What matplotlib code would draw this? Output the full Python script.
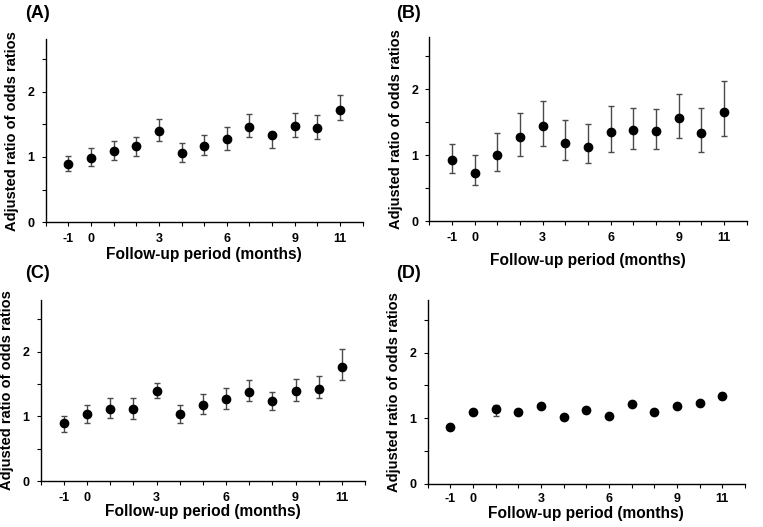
import matplotlib
matplotlib.use("Agg")
import matplotlib.pyplot as plt
import numpy as np

plt.rcParams['font.family'] = ['Liberation Sans', 'DejaVu Sans']
plt.rcParams['font.weight'] = 'bold'

months = [-1, 0, 1, 2, 3, 4, 5, 6, 7, 8, 9, 10, 11]
tick_labels = ['-1', '0', '', '', '3', '', '', '6', '', '', '9', '', '11']

a_est = [0.89, 0.98, 1.09, 1.16, 1.40, 1.06, 1.17, 1.28, 1.46, 1.33, 1.47, 1.44, 1.72]
a_low = [0.79, 0.86, 0.95, 1.01, 1.24, 0.93, 1.03, 1.11, 1.30, 1.13, 1.31, 1.28, 1.56]
a_up  = [1.01, 1.14, 1.25, 1.31, 1.58, 1.22, 1.34, 1.46, 1.65, 1.38, 1.67, 1.64, 1.95]

b_est = [0.92, 0.73, 1.01, 1.27, 1.44, 1.19, 1.13, 1.35, 1.38, 1.36, 1.56, 1.34, 1.65]
b_low = [0.73, 0.54, 0.76, 0.99, 1.14, 0.92, 0.88, 1.05, 1.10, 1.10, 1.26, 1.05, 1.29]
b_up  = [1.17, 1.00, 1.34, 1.64, 1.83, 1.53, 1.47, 1.74, 1.72, 1.70, 1.93, 1.71, 2.12]

c_est = [0.89, 1.03, 1.12, 1.11, 1.39, 1.03, 1.17, 1.27, 1.38, 1.23, 1.39, 1.43, 1.77]
c_low = [0.76, 0.89, 0.98, 0.96, 1.28, 0.90, 1.03, 1.12, 1.24, 1.10, 1.24, 1.28, 1.56]
c_up  = [1.01, 1.18, 1.29, 1.28, 1.51, 1.18, 1.34, 1.44, 1.56, 1.38, 1.58, 1.63, 2.04]

d_est = [0.87, 1.10, 1.14, 1.10, 1.19, 1.02, 1.12, 1.04, 1.22, 1.10, 1.18, 1.23, 1.34]
d_low = [0.85, 1.07, 1.03, 1.07, 1.16, 0.99, 1.09, 1.01, 1.19, 1.07, 1.15, 1.20, 1.30]
d_up  = [0.89, 1.13, 1.20, 1.13, 1.22, 1.05, 1.15, 1.07, 1.25, 1.13, 1.21, 1.26, 1.38]

panels = [
    ('(A)', a_est, a_low, a_up, [45.7, 39.3, 362.7, 222.3], (25, 14), 1.0, 5.0),
    ('(B)', b_est, b_low, b_up, [429.3, 36.7, 746.7, 221.0], (396, 14), 6.5, 5.0),
    ('(C)', c_est, c_low, c_up, [40.7, 300.0, 365.0, 481.0], (25, 274), 0.0, 5.0),
    ('(D)', d_est, d_low, d_up, [427.7, 300.0, 745.0, 484.0], (396, 274), 0.5, 3.5),
]

W, H = 763, 527
fig = plt.figure(figsize=(W / 100, H / 100), dpi=100)

for label, est, low, up, (l, t, r, b), (lx, ly), xpad, tpad in panels:
    ax = fig.add_axes([l / W, 1 - b / H, (r - l) / W, (b - t) / H])
    est = np.array(est)
    yerr = np.vstack([est - np.array(low), np.array(up) - est])
    ax.errorbar(months, est, yerr=yerr, fmt='o', color='black', ms=6,
                ecolor='#4a4a4a', elinewidth=1.0, capsize=2.2, capthick=1.0,
                zorder=3)
    ax.set_xlim(-2, 12)
    ax.set_ylim(0, 2.8)
    ax.set_xticks(range(-2, 13))
    ax.set_xticklabels([''] + tick_labels + [''])
    ax.set_yticks([0, 0.5, 1, 1.5, 2, 2.5])
    ax.set_yticklabels(['0', '', '1', '', '2', ''])
    ax.spines['top'].set_visible(False)
    ax.spines['right'].set_visible(False)
    for s in ('left', 'bottom'):
        ax.spines[s].set_linewidth(1.0)
    ax.tick_params(axis='both', direction='out', length=3, width=0.8,
                   labelsize=9, pad=5)
    ax.tick_params(axis='x', pad=tpad)
    for lab in ax.get_xticklabels() + ax.get_yticklabels():
        lab.set_fontweight('bold')
    ax.set_xlabel('Follow-up period (months)', fontsize=11.2,
                  fontweight='bold', labelpad=xpad)
    ax.set_ylabel('Adjusted ratio of odds ratios', fontsize=10.5,
                  fontweight='bold', labelpad=6)
    fig.text(lx / W, 1 - ly / H, label, fontsize=13, fontweight='bold',
             ha='left', va='center')

fig.savefig('out.png', dpi=100)
